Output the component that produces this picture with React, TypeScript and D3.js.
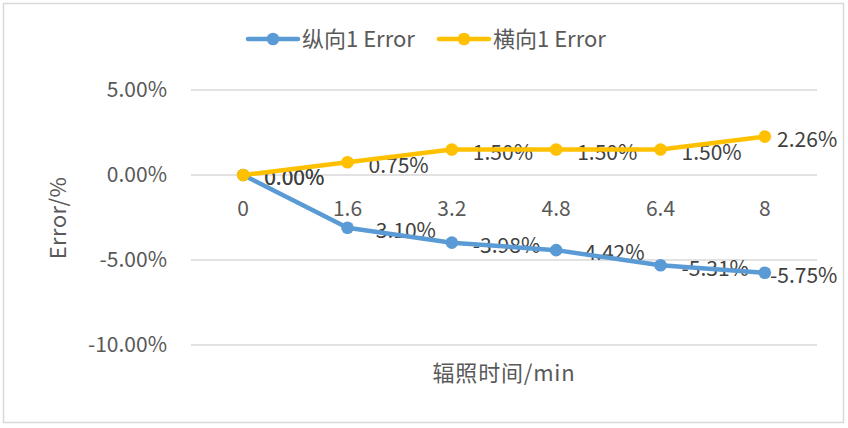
import React from "react";
import * as d3 from "d3";

const categories = ["0", "1.6", "3.2", "4.8", "6.4", "8"];
const verticalErr = [0, -3.1, -3.98, -4.42, -5.31, -5.75];
const horizontalErr = [0, 0.75, 1.5, 1.5, 1.5, 2.26];
const yTicks = [5, 0, -5, -10];
const seriesNames = ["纵向1 Error", "横向1 Error"];
const seriesColors = ["#5B9BD5", "#FFC000"];
const xTitle = "辐照时间/min";
const yTitle = "Error/%";

const W = 848;
const H = 428;
const FONT = "'Noto Sans CJK SC', 'Noto Sans', sans-serif";

export default function App() {
  const x = d3.scaleBand<string>().domain(categories).range([191, 817]);
  const cx = (c: string) => (x(c) as number) + x.bandwidth() / 2;
  const y = d3.scaleLinear().domain([-10, 5]).range([345, 90]);
  const line = d3
    .line<number>()
    .x((_, i) => cx(categories[i]))
    .y((d) => y(d));
  const fmt = (v: number) => v.toFixed(2) + "%";
  const series = [verticalErr, horizontalErr];
  const legendX = [248, 439];
  const labelRight = 836;
  const fs = 21;
  const labelWidth = (s: string) => {
    let w = 0;
    for (const ch of s) {
      if (ch === ".") w += 0.276;
      else if (ch === "%") w += 0.87;
      else if (ch === "-") w += 0.34;
      else w += 0.553;
    }
    return w * fs;
  };

  return (
    <svg
      width={W}
      height={H}
      style={{ position: "fixed", left: 0, top: 0, background: "#fff" }}
      fontFamily={FONT}
    >
      <rect x={0} y={0} width={W} height={H} fill="#fff" />
      <rect x={3.5} y={3.5} width={840} height={419} fill="none" stroke="#D9D9D9" strokeWidth={1.5} />
      {yTicks.map((t) => (
        <g key={t}>
          <line x1={191} x2={817} y1={y(t)} y2={y(t)} stroke="#D9D9D9" strokeWidth={1.5} />
          <text x={167} y={y(t)} dy="0.35em" textAnchor="end" fontSize={fs} fill="#595959">
            {fmt(t)}
          </text>
        </g>
      ))}
      {categories.map((c) => (
        <text key={c} x={cx(c)} y={y(0) + 34} dy="0.35em" textAnchor="middle" fontSize={fs} fill="#595959">
          {c}
        </text>
      ))}
      <text x={504} y={373} dy="0.35em" textAnchor="middle" fontSize={22} fill="#595959" letterSpacing={0.8}>
        {xTitle}
      </text>
      <text
        transform={`translate(58,218) rotate(-90)`}
        dy="0.35em"
        textAnchor="middle"
        fontSize={22}
        fill="#595959"
        letterSpacing={0.4}
      >
        {yTitle}
      </text>
      {series.map((s, si) =>
        s.map((v, i) => {
          const t = fmt(v);
          const px = cx(categories[i]) + 21;
          const lx = Math.min(px, labelRight - labelWidth(t));
          return (
            <text key={`l${si}-${i}`} x={lx} y={y(v) + 3} dy="0.35em" fontSize={fs} fill="#404040">
              {t}
            </text>
          );
        })
      )}
      {series.map((s, si) => (
        <g key={`s${si}`}>
          <path d={line(s) as string} fill="none" stroke={seriesColors[si]} strokeWidth={4.5} strokeLinejoin="round" strokeLinecap="round" />
          {s.map((v, i) => (
            <circle key={i} cx={cx(categories[i])} cy={y(v)} r={6.3} fill={seriesColors[si]} />
          ))}
        </g>
      ))}
      {seriesNames.map((n, i) => (
        <g key={n}>
          <line x1={legendX[i]} x2={legendX[i] + 50} y1={39} y2={39} stroke={seriesColors[i]} strokeWidth={4.5} strokeLinecap="round" />
          <circle cx={legendX[i] + 25} cy={39} r={6.3} fill={seriesColors[i]} />
          <text x={legendX[i] + 54} y={39} dy="0.35em" fontSize={22} fill="#595959">
            {n}
          </text>
        </g>
      ))}
    </svg>
  );
}
